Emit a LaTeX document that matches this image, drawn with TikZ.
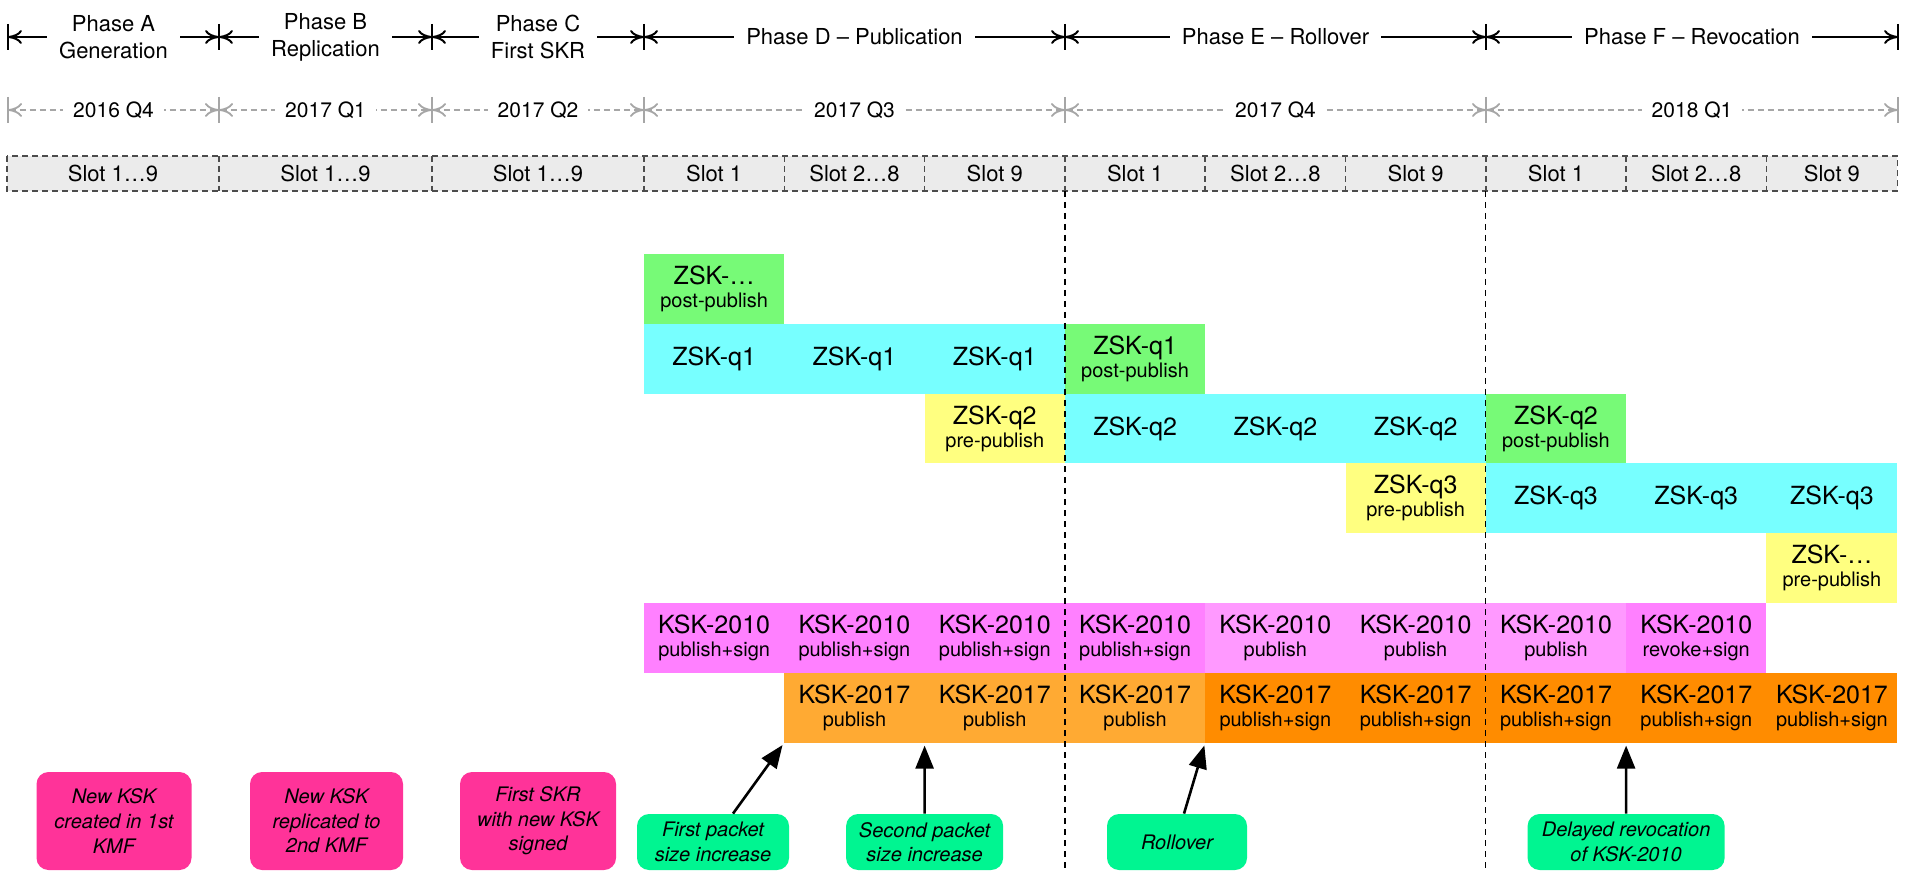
\documentclass[tikz,border=0pt]{standalone}
\usepackage{fontspec}
\setmainfont{TeX Gyre Heros}
\usetikzlibrary{arrows.meta, positioning}

\definecolor{zskcyan}{RGB}{119,255,255}
\definecolor{postgreen}{RGB}{119,250,119}
\definecolor{preyellow}{RGB}{255,255,128}
\definecolor{oldsign}{RGB}{255,128,255}
\definecolor{oldpub}{RGB}{255,153,255}
\definecolor{newpub}{RGB}{255,170,51}
\definecolor{newsign}{RGB}{255,140,0}
\definecolor{notepink}{RGB}{255,51,153}
\definecolor{notegreen}{RGB}{0,245,145}
\definecolor{slotgray}{RGB}{235,235,235}

% key name on top, its state below in a smaller size
\newcommand{\keystate}[2]{#1\\[-2.5pt]{\fontsize{10}{11}\selectfont #2}}

\begin{document}
\begin{tikzpicture}[x=0.5pt, y=-0.5pt, node distance=0pt, >={Triangle[length=11.5pt, width=9pt]}]
        \tikzstyle{cell} = [rectangle, anchor=north west, minimum width=70.15pt, minimum height=34.9pt, inner sep=0pt, outer sep=0pt, align=center, font=\fontsize{12.5}{14}\selectfont]
        \tikzstyle{slot} = [rectangle, anchor=north west, fill=slotgray, minimum width=70.15pt, minimum height=17.5pt, inner sep=0pt, outer sep=0pt, font=\fontsize{11}{13}\selectfont]
        \tikzstyle{slotline} = [draw=black!70, line width=0.75pt, dash pattern=on 3pt off 2pt]
        \tikzstyle{note} = [rectangle, rounded corners=6pt, align=center, inner sep=0pt, font=\fontsize{10}{12.3}\selectfont\itshape]
        \tikzstyle{phase} = [fill=white, align=center, inner xsep=6pt, inner ysep=0pt, font=\fontsize{11}{13.5}\selectfont]
        \tikzstyle{quarter} = [fill=white, text=black, inner xsep=5pt, inner ysep=0pt, font=\fontsize{10.5}{12}\selectfont]
        \tikzstyle{dim} = [<->, >={Computer Modern Rightarrow[length=7pt, width=7pt]}]

        \useasboundingbox[fill=white] (0,0) rectangle (1905,871);

        % phases
        \coordinate (p0) at (8,37);
        \coordinate (p1) at (219,37);
        \coordinate (p2) at (432,37);
        \coordinate (p3) at (644,37);
        \coordinate (p4) at (1065,37);
        \coordinate (p5) at (1486,37);
        \coordinate (p6) at (1898,37);
        \draw [line width=1pt] (p0) ++(0,-13) -- ++(0,26) (p1) ++(0,-13) -- ++(0,26) (p2) ++(0,-13) -- ++(0,26) (p3) ++(0,-13) -- ++(0,26) (p4) ++(0,-13) -- ++(0,26) (p5) ++(0,-13) -- ++(0,26) (p6) ++(0,-13) -- ++(0,26);
        \draw [dim, line width=1pt] (p0) -- node [phase] {Phase A\\Generation} (p1);
        \draw [dim, line width=1pt] (p1) -- node [phase] {Phase B\\Replication} (p2);
        \draw [dim, line width=1pt] (p2) -- node [phase] {Phase C\\First SKR} (p3);
        \draw [dim, line width=1pt] (p3) -- node [phase] {Phase D – Publication} (p4);
        \draw [dim, line width=1pt] (p4) -- node [phase] {Phase E – Rollover} (p5);
        \draw [dim, line width=1pt] (p5) -- node [phase] {Phase F – Revocation} (p6);

        % quarters
        \coordinate (q0) at (8,110);
        \coordinate (q1) at (219,110);
        \coordinate (q2) at (432,110);
        \coordinate (q3) at (644,110);
        \coordinate (q4) at (1065,110);
        \coordinate (q5) at (1486,110);
        \coordinate (q6) at (1898,110);
        \draw [black!35, line width=0.9pt] (q0) ++(0,-13) -- ++(0,26) (q1) ++(0,-13) -- ++(0,26) (q2) ++(0,-13) -- ++(0,26) (q3) ++(0,-13) -- ++(0,26) (q4) ++(0,-13) -- ++(0,26) (q5) ++(0,-13) -- ++(0,26) (q6) ++(0,-13) -- ++(0,26);
        \draw [dim, black!35, line width=0.9pt, dash pattern=on 3pt off 2pt] (q0) -- node [quarter] {2016 Q4} (q1);
        \draw [dim, black!35, line width=0.9pt, dash pattern=on 3pt off 2pt] (q1) -- node [quarter] {2017 Q1} (q2);
        \draw [dim, black!35, line width=0.9pt, dash pattern=on 3pt off 2pt] (q2) -- node [quarter] {2017 Q2} (q3);
        \draw [dim, black!35, line width=0.9pt, dash pattern=on 3pt off 2pt] (q3) -- node [quarter] {2017 Q3} (q4);
        \draw [dim, black!35, line width=0.9pt, dash pattern=on 3pt off 2pt] (q4) -- node [quarter] {2017 Q4} (q5);
        \draw [dim, black!35, line width=0.9pt, dash pattern=on 3pt off 2pt] (q5) -- node [quarter] {2018 Q1} (q6);

        % slots
        \node [slot, minimum width=106pt] (sA) at (7,156) {Slot 1…9};
        \node [slot, minimum width=106.5pt, right=of sA] (sB) {Slot 1…9};
        \node [slot, minimum width=106pt, right=of sB] (sC) {Slot 1…9};
        \node [slot, right=of sC] (sD1) {Slot 1};
        \node [slot, right=of sD1] (sD2) {Slot 2…8};
        \node [slot, right=of sD2] (sD3) {Slot 9};
        \node [slot, right=of sD3] (sE1) {Slot 1};
        \node [slot, right=of sE1] (sE2) {Slot 2…8};
        \node [slot, right=of sE2] (sE3) {Slot 9};
        \node [slot, right=of sE3] (sF1) {Slot 1};
        \node [slot, right=of sF1] (sF2) {Slot 2…8};
        \node [slot, minimum width=65.5pt, right=of sF2] (sF3) {Slot 9};
        \draw [slotline] (sA.north west) rectangle (sF3.south east);
        \draw [slotline] (sB.north west) -- (sB.south west) (sC.north west) -- (sC.south west) (sD1.north west) -- (sD1.south west) (sD2.north west) -- (sD2.south west) (sD3.north west) -- (sD3.south west) (sE1.north west) -- (sE1.south west) (sE2.north west) -- (sE2.south west) (sE3.north west) -- (sE3.south west) (sF1.north west) -- (sF1.south west) (sF2.north west) -- (sF2.south west) (sF3.north west) -- (sF3.south west);

        % ZSK rows
        \node [cell, fill=postgreen] (z0) at (644,254) {\keystate{ZSK-…}{post-publish}};

        \node [cell, fill=zskcyan] (q1a) at (644,323.8) {ZSK-q1};
        \node [cell, fill=zskcyan, right=of q1a] (q1b) {ZSK-q1};
        \node [cell, fill=zskcyan, right=of q1b] (q1c) {ZSK-q1};
        \node [cell, fill=postgreen, right=of q1c] (q1d) {\keystate{ZSK-q1}{post-publish}};

        \node [cell, fill=preyellow] (q2a) at (924.6,393.6) {\keystate{ZSK-q2}{pre-publish}};
        \node [cell, fill=zskcyan, right=of q2a] (q2b) {ZSK-q2};
        \node [cell, fill=zskcyan, right=of q2b] (q2c) {ZSK-q2};
        \node [cell, fill=zskcyan, right=of q2c] (q2d) {ZSK-q2};
        \node [cell, fill=postgreen, right=of q2d] (q2e) {\keystate{ZSK-q2}{post-publish}};

        \node [cell, fill=preyellow] (q3a) at (1345.5,463.4) {\keystate{ZSK-q3}{pre-publish}};
        \node [cell, fill=zskcyan, right=of q3a] (q3b) {ZSK-q3};
        \node [cell, fill=zskcyan, right=of q3b] (q3c) {ZSK-q3};
        \node [cell, fill=zskcyan, minimum width=65.5pt, right=of q3c] (q3d) {ZSK-q3};

        \node [cell, fill=preyellow, minimum width=65.5pt] (zn) at (1766.4,533.2) {\keystate{ZSK-…}{pre-publish}};

        % KSK rows
        \node [cell, fill=oldsign] (k10a) at (644,603) {\keystate{KSK-2010}{publish+sign}};
        \node [cell, fill=oldsign, right=of k10a] (k10b) {\keystate{KSK-2010}{publish+sign}};
        \node [cell, fill=oldsign, right=of k10b] (k10c) {\keystate{KSK-2010}{publish+sign}};
        \node [cell, fill=oldsign, right=of k10c] (k10d) {\keystate{KSK-2010}{publish+sign}};
        \node [cell, fill=oldpub, right=of k10d] (k10e) {\keystate{KSK-2010}{publish}};
        \node [cell, fill=oldpub, right=of k10e] (k10f) {\keystate{KSK-2010}{publish}};
        \node [cell, fill=oldpub, right=of k10f] (k10g) {\keystate{KSK-2010}{publish}};
        \node [cell, fill=oldsign, right=of k10g] (k10h) {\keystate{KSK-2010}{revoke+sign}};

        \node [cell, fill=newpub] (k17b) at (784.3,672.8) {\keystate{KSK-2017}{publish}};
        \node [cell, fill=newpub, right=of k17b] (k17c) {\keystate{KSK-2017}{publish}};
        \node [cell, fill=newpub, right=of k17c] (k17d) {\keystate{KSK-2017}{publish}};
        \node [cell, fill=newsign, right=of k17d] (k17e) {\keystate{KSK-2017}{publish+sign}};
        \node [cell, fill=newsign, right=of k17e] (k17f) {\keystate{KSK-2017}{publish+sign}};
        \node [cell, fill=newsign, right=of k17f] (k17g) {\keystate{KSK-2017}{publish+sign}};
        \node [cell, fill=newsign, right=of k17g] (k17h) {\keystate{KSK-2017}{publish+sign}};
        \node [cell, fill=newsign, minimum width=65.5pt, right=of k17h] (k17i) {\keystate{KSK-2017}{publish+sign}};

        % phase borders
        \draw [line width=0.6pt, dash pattern=on 3pt off 2.5pt] (sE1.south west) -- ++(0,680);
        \draw [line width=0.6pt, dash pattern=on 3pt off 2.5pt] (sF1.south west) -- ++(0,680);

        % events
        \node [note, fill=notepink, minimum width=77.5pt, minimum height=49pt] (nA) at (114,821) {New KSK\\created in 1st\\KMF};
        \node [note, fill=notepink, minimum width=76.5pt, minimum height=49pt] (nB) at (326.5,821) {New KSK\\replicated to\\2nd KMF};
        \node [note, fill=notepink, minimum width=78pt, minimum height=49pt] (nC) at (538,821) {First SKR\\with new KSK\\signed};
        \node [note, fill=notegreen, minimum width=76pt, minimum height=28pt] (n1) at (713,842) {First packet\\size increase};
        \node [note, fill=notegreen, minimum width=78.5pt, minimum height=28pt] (n2) at (924.6,842) {Second packet\\size increase};
        \node [note, fill=notegreen, minimum width=70pt, minimum height=28pt] (n3) at (1177,842) {Rollover};
        \node [note, fill=notegreen, minimum width=98.5pt, minimum height=28pt] (n4) at (1626.1,842) {Delayed revocation\\of KSK-2010};

        \draw [->, line width=1.3pt, shorten >=1.5pt] ([xshift=10pt]n1.north) -- (k17b.south west);
        \draw [->, line width=1.3pt, shorten >=1.5pt] (n2.north) -- (k17c.south west);
        \draw [->, line width=1.3pt, shorten >=1.5pt] ([xshift=3.5pt]n3.north) -- (k17e.south west);
        \draw [->, line width=1.3pt, shorten >=1.5pt] (n4.north) -- (k17h.south west);
    \end{tikzpicture}
\end{document}
